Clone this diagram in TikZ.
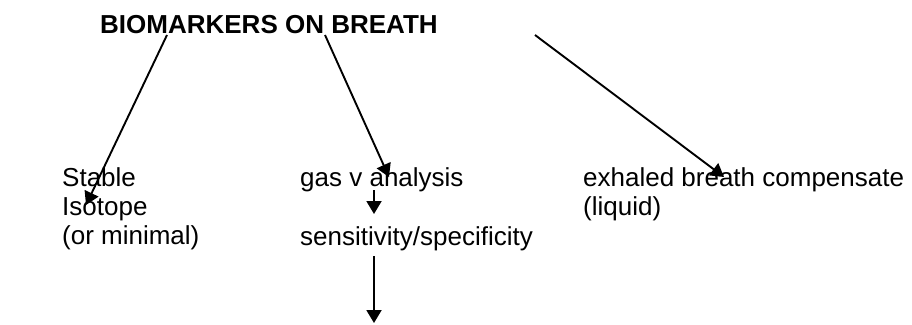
\documentclass[tikz,border=0pt]{standalone}
\usepackage{fontspec}
\setmainfont{Liberation Sans}
\usetikzlibrary{arrows.meta}
\begin{document}
\begin{tikzpicture}[x=1pt,y=1pt,
  txt/.style={inner sep=0pt,anchor=base west,font=\fontsize{26}{29}\selectfont},
  ttl/.style={txt,font=\fontsize{26}{29}\selectfont\bfseries},
  conn/.style={line width=1.9pt,-{Triangle[width=15pt,length=13pt]}}]
\useasboundingbox (0,0) rectangle (912,-324);
\fill[white] (0,0) rectangle (912,-324);
% texts
\node[ttl] (title) at (100,-33) {BIOMARKERS ON BREATH};
\node[txt] (stable) at (62,-186) {Stable};
\node[txt] (isotope) at (62,-215) {Isotope};
\node[txt] (minimal) at (62,-244) {(or minimal)};
\node[txt] (gas) at (300,-186) {gas v analysis};
\node[txt] (sens) at (300,-245) {sensitivity/specificity};
\node[txt] (exh) at (583,-186) {exhaled breath compensate};
\node[txt] (liq) at (583,-215) {(liquid)};
% connector end points
\coordinate (s1) at (167,-35);
\coordinate (e1) at (86,-205);
\coordinate (s2) at (325,-35);
\coordinate (e2) at (389,-177);
\coordinate (s3) at (535,-35);
\coordinate (e3) at (724,-177);
\coordinate (s4) at (374,-190);
\coordinate (e4) at (374,-214);
\coordinate (s5) at (374,-256);
\coordinate (e5) at (374,-323);
% connectors
\draw[conn] (s1) -- (e1);
\draw[conn] (s2) -- (e2);
\draw[conn] (s3) -- (e3);
\draw[conn] (s4) -- (e4);
\draw[conn] (s5) -- (e5);
\end{tikzpicture}
\end{document}
